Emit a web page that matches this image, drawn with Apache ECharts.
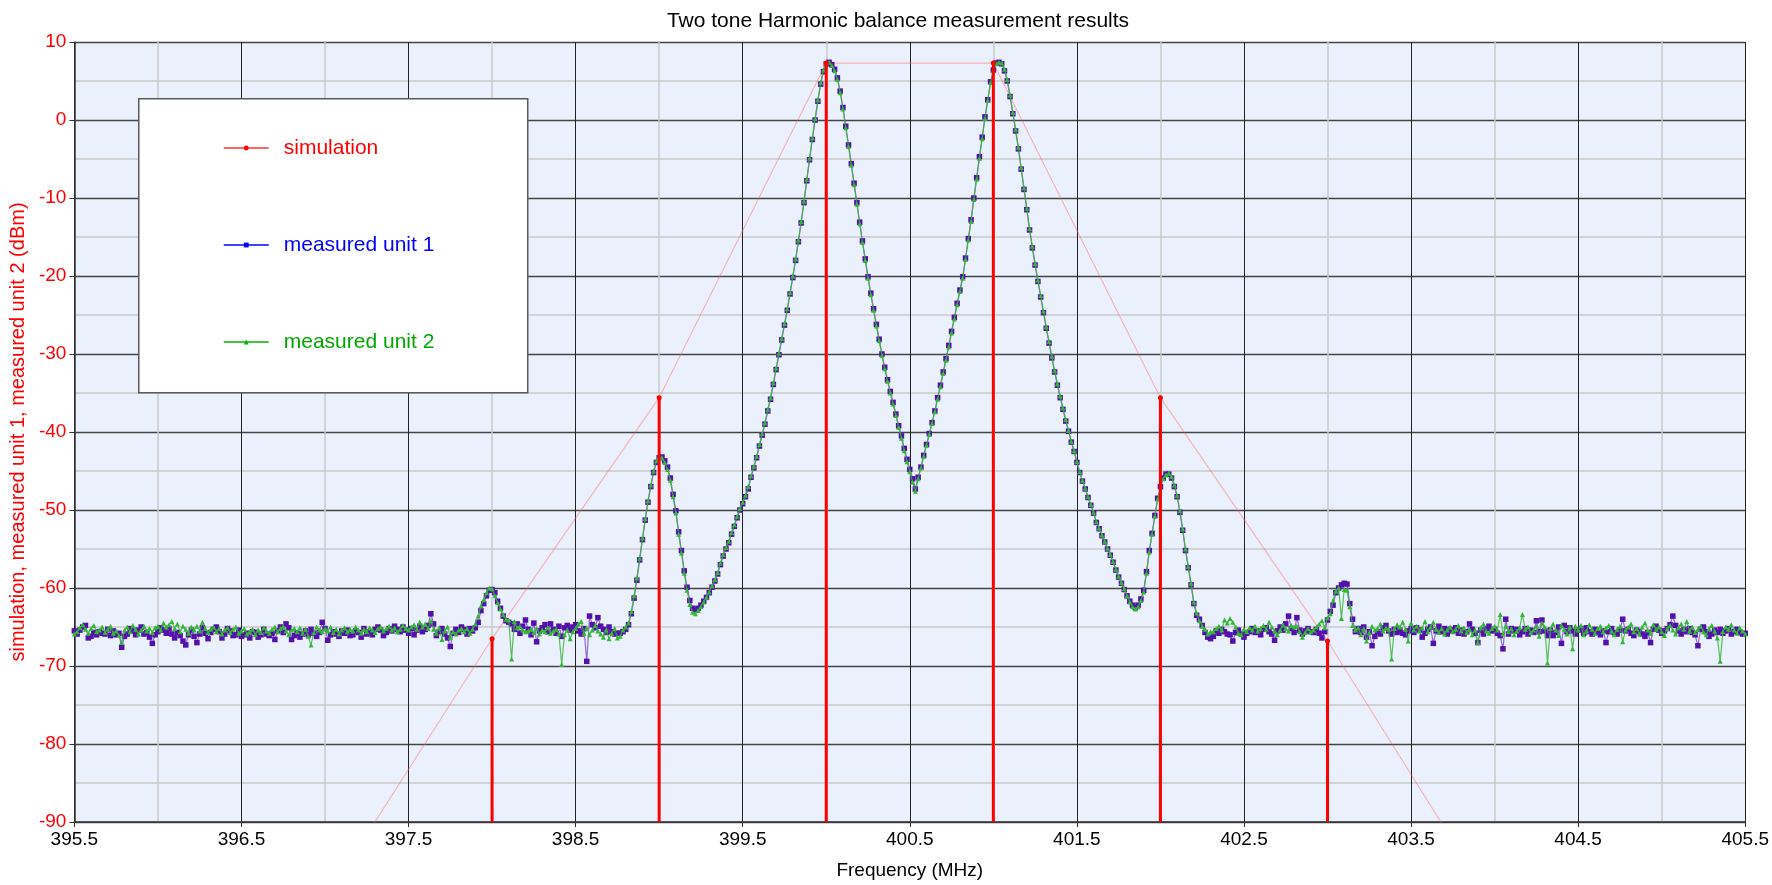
<!DOCTYPE html>
<html><head><meta charset="utf-8">
<script src="https://cdn.jsdelivr.net/npm/echarts@6/dist/echarts.min.js"></script>
<style>html,body{margin:0;padding:0;background:#fff}#c{width:1772px;height:885px}</style>
</head><body><div id="c"></div>
<script>
// ---- data ----
const titleText = 'Two tone Harmonic balance measurement results';
const xName = 'Frequency (MHz)';
const yName = 'simulation, measured unit 1, measured unit 2 (dBm)';
const seriesNames = ['simulation', 'measured unit 1', 'measured unit 2'];
const xMin = 395.5, xMax = 405.5, xStep = 1;
const yMin = -90, yMax = 10, yStep = 10;
// measurement sweep grid: 601 points from 395.5 MHz, 1/60 MHz apart
const sweepStart = 395.5, sweepStep = 1 / 60;
// simulated tones and intermodulation products
const simFreq = [397, 398, 399, 400, 401, 402, 403, 404];
const simLevel = [-100, -66.5, -35.6, 7.3, 7.3, -35.6, -66.8, -101];
// measured unit 1 (dBm), one value per sweep point
const unit1 = [
-65.5,-65.9,-65.4,-65.0,-64.8,-66.4,-66.2,-65.7,-66.0,-65.6,
-65.8,-65.9,-65.3,-66.1,-65.5,-66.0,-65.8,-67.6,-66.2,-65.9,
-65.2,-65.5,-66.0,-65.4,-65.0,-65.9,-65.7,-66.3,-67.1,-66.0,
-65.6,-65.1,-65.4,-65.8,-65.2,-65.9,-66.4,-65.7,-66.1,-66.8,
-67.3,-66.0,-65.4,-66.2,-67.0,-65.9,-65.1,-65.8,-66.5,-65.7,
-65.3,-65.0,-65.6,-66.4,-65.9,-65.2,-65.5,-66.1,-66.0,-65.4,
-66.2,-66.0,-65.8,-66.4,-65.6,-65.7,-66.3,-66.0,-65.3,-65.9,
-66.1,-65.8,-66.6,-65.5,-65.0,-65.7,-64.6,-65.1,-66.6,-66.1,
-65.8,-66.3,-65.9,-65.5,-66.0,-65.3,-65.8,-66.2,-65.7,-64.4,
-65.2,-66.7,-66.0,-65.6,-65.9,-66.2,-65.5,-65.8,-65.4,-66.1,
-66.0,-65.5,-65.7,-66.3,-65.2,-65.9,-65.6,-66.0,-65.3,-65.0,
-65.4,-66.1,-65.7,-65.2,-65.5,-64.9,-65.3,-65.6,-65.0,-65.4,
-65.8,-65.2,-66.0,-65.4,-64.9,-65.6,-65.3,-64.8,-63.3,-64.6,
-66.1,-65.6,-65.2,-65.9,-66.4,-67.5,-65.8,-65.3,-65.7,-65.0,
-65.3,-65.9,-65.2,-65.5,-65.1,-64.4,-62.9,-62.0,-61.0,-60.3,-60.2,-60.6,-61.7,-62.6,-63.6,-64.2,-64.4,-64.6,-65.3,-64.6,-65.8,
-64.9,-64.1,-65.3,-66.0,-64.5,-66.9,-65.5,-65.1,-64.7,-65.6,-64.6,-65.3,-65.8,-64.9,-66.2,-65.1,-64.8,-65.4,-65.0,-64.7,-65.5,-65.9,-65.2,-69.4,-63.6,-64.7,-65.1,-63.8,-64.9,-65.3,-65.7,-65.0,-65.6,-65.9,-65.8,
-65.8,-65.6,-65.3,-64.7,-63.3,-61.3,-59.0,-56.4,-53.8,-51.3,
-49.0,-47.0,-45.2,-43.9,-43.3,-43.2,-43.7,-44.5,-45.9,-48.0,
-50.1,-52.8,-55.2,-57.8,-59.9,-61.6,-62.6,-62.8,-62.6,-62.2,
-61.7,-61.2,-60.6,-59.9,-59.1,-58.2,-57.0,-55.9,-55.0,-54.2,
-53.1,-52.1,-51.0,-50.0,-49.2,-48.3,-47.3,-45.8,-44.6,-43.3,
-41.8,-40.4,-39.0,-37.3,-35.8,-33.9,-32.0,-30.1,-28.2,-26.3,
-24.4,-22.3,-20.2,-18.0,-15.6,-13.2,-10.6,-7.8,-5.1,-2.5,
0.0,2.4,4.6,6.2,7.2,7.4,7.1,6.5,5.4,3.7,
1.6,-0.8,-3.2,-5.6,-8.1,-10.6,-13.1,-15.5,-17.8,-20.1,
-22.2,-24.2,-26.2,-28.1,-30.0,-31.7,-33.3,-34.8,-36.2,-37.7,
-39.2,-40.5,-42.1,-43.5,-44.8,-46.0,-47.3,-45.8,-44.5,-43.0,
-41.6,-40.2,-38.8,-37.3,-35.6,-34.0,-32.3,-30.6,-28.9,-27.1,
-25.3,-23.5,-21.8,-20.1,-17.7,-15.2,-12.8,-10.0,-7.4,-4.7,
-2.2,0.4,2.6,4.9,6.4,7.3,7.4,7.2,6.3,5.0,
3.0,0.8,-1.4,-3.7,-6.3,-8.9,-11.5,-14.1,-16.4,-18.6,
-20.7,-22.7,-24.7,-26.7,-28.6,-30.5,-32.3,-34.0,-35.6,-37.1,
-38.6,-39.9,-41.3,-42.5,-43.9,-45.2,-46.3,-47.3,-48.4,-49.4,
-50.4,-51.6,-52.4,-53.3,-54.1,-55.0,-55.8,-56.7,-57.7,-58.6,
-59.4,-60.2,-61.0,-61.7,-62.2,-62.5,-62.2,-61.4,-60.3,-57.9,
-55.2,-53.0,-50.7,-48.5,-47.0,-45.9,-45.4,-45.4,-45.9,-47.0,
-48.3,-50.3,-52.6,-55.2,-57.4,-59.6,-62.0,-63.5,-64.0,-64.8,
-65.7,-66.3,-66.5,
-66.2,-65.5,-65.8,-65.3,-65.6,-65.9,-66.0,-66.8,-65.7,-65.4,
-65.9,-66.3,-65.8,-65.6,-65.2,-65.7,-65.5,-66.0,-65.3,-65.1,
-65.6,-65.9,-66.7,-65.5,-65.0,-65.4,-64.6,-63.6,-65.2,-65.7,
-63.8,-65.4,-65.9,-65.5,-65.2,-65.6,-65.7,-65.3,-65.8,-66.4,
-65.6,
-64.1,-63.0,-62.2,-60.6,-60.0,-59.6,-59.4,-59.5,-62.0,-64.0,-65.6,-65.2,-65.7,
-65.0,-66.3,-65.6,-67.4,-66.2,-65.6,-65.9,-65.1,-64.8,-65.5,
-65.9,-65.3,-65.7,-65.4,-65.8,-66.0,-65.5,-65.2,-65.7,-65.1,
-65.4,-66.3,-65.8,-65.3,-65.0,-67.1,-65.5,-64.9,-65.6,-65.2,
-65.9,-65.3,-65.5,-65.1,-65.8,-65.4,-65.9,-65.6,-64.6,-65.3,
-65.8,-67.0,-65.4,-65.9,-65.2,-64.9,-65.5,-65.3,-65.8,-66.1,
-67.8,-64.0,-65.9,-65.2,-65.5,-65.3,-66.0,-65.6,-65.2,-65.9,
-65.4,-65.7,-64.2,-65.6,-64.1,-65.5,-66.1,-65.4,-66.1,-65.7,
-65.0,-67.1,-64.8,-65.6,-65.1,-65.5,-65.9,-65.4,-65.2,-65.8,
-65.1,-65.6,-65.9,-65.3,-65.7,-66.0,-65.5,-67.0,-65.6,-65.2,
-65.7,-65.9,-65.4,-64.0,-65.5,-65.3,-65.8,-66.1,-65.4,-65.6,
-65.9,-66.2,-65.7,-67.0,-65.3,-64.9,-65.4,-65.8,-65.5,-65.2,
-64.7,-63.6,-64.8,-65.5,-65.9,-65.3,-65.6,-65.2,-65.7,-66.0,
-67.4,-65.3,-65.0,-65.6,-66.2,-65.9,-65.4,-65.7,-65.3,-65.8,
-65.5,-65.2,-65.9,-65.6,-65.3,-65.7,-65.9,-65.8
];
// measured unit 2 (dBm), one value per sweep point
const unit2 = [
-65.9,-65.6,-65.1,-64.7,-65.3,-65.8,-65.2,-64.8,-65.6,-65.4,
-65.0,-65.7,-65.3,-64.9,-65.8,-65.5,-66.1,-67.0,-65.4,-65.0,
-65.6,-64.8,-65.3,-65.9,-65.4,-64.9,-65.5,-65.2,-65.7,-65.1,
-64.9,-65.4,-64.5,-65.0,-64.7,-64.3,-65.2,-64.6,-65.6,-64.9,
-65.3,-65.8,-65.0,-65.4,-64.9,-65.5,-64.4,-65.2,-65.7,-65.3,
-65.0,-65.6,-65.2,-65.9,-65.4,-65.1,-65.7,-65.3,-65.0,-65.8,
-65.5,-65.2,-65.9,-65.6,-65.3,-66.0,-65.4,-65.7,-65.1,-65.5,
-65.8,-65.3,-65.0,-65.6,-65.2,-64.9,-65.5,-66.0,-65.4,-65.2,
-65.6,-65.1,-65.8,-65.3,-66.2,-67.3,-65.7,-65.0,-65.4,-65.6,
-65.2,-65.5,-65.0,-65.7,-65.3,-65.9,-65.4,-65.1,-65.6,-65.3,
-65.5,-65.0,-65.4,-65.8,-65.3,-65.6,-65.1,-65.4,-65.7,-65.2,
-65.0,-65.5,-65.2,-64.9,-65.4,-65.1,-65.6,-65.3,-64.8,-65.2,
-65.4,-65.0,-64.7,-65.3,-64.4,-65.0,-64.6,-65.2,-64.2,-65.3,
-65.8,-65.1,-66.6,-65.5,-65.0,-66.3,-65.6,-65.9,-65.4,-65.2,
-65.6,-65.2,-65.8,-65.3,-64.6,-63.6,-62.3,-61.5,-60.6,-60.0,-60.1,-61.0,-61.9,-62.7,-63.4,-64.0,-64.1,-69.1,-64.3,-65.1,-64.9,
-65.4,-65.6,-65.5,-65.3,-65.7,-65.2,-65.9,-65.4,-65.6,-65.1,-65.8,-65.5,-65.3,-65.9,-69.8,-66.0,-65.4,-66.5,-65.6,-65.2,-64.6,-64.3,-65.8,-65.1,-66.0,-65.4,-64.8,-65.5,-65.9,-66.3,-65.4,-66.5,-65.8,-65.2,-66.4,
-66.2,-65.4,-65.0,-64.5,-63.0,-61.0,-58.7,-56.2,-53.6,-51.1,
-48.8,-46.8,-45.0,-43.7,-43.2,-43.3,-43.9,-44.8,-46.2,-48.3,
-50.4,-53.1,-55.5,-58.1,-60.3,-62.1,-63.1,-63.3,-62.9,-62.4,
-61.8,-61.2,-60.5,-59.7,-58.9,-58.0,-56.8,-55.7,-54.8,-54.0,
-52.9,-51.9,-50.8,-49.8,-49.0,-48.1,-47.0,-45.6,-44.4,-43.1,
-41.6,-40.2,-38.8,-37.1,-35.6,-33.7,-31.8,-29.9,-28.0,-26.1,
-24.2,-22.1,-20.0,-17.8,-15.4,-13.0,-10.4,-7.6,-4.9,-2.3,
0.2,2.6,4.8,6.4,7.3,7.4,7.0,6.3,5.2,3.5,
1.4,-1.0,-3.4,-5.8,-8.3,-10.8,-13.3,-15.7,-18.0,-20.3,
-22.4,-24.4,-26.4,-28.3,-30.2,-31.9,-33.5,-35.0,-36.4,-37.9,
-39.4,-40.8,-42.4,-43.8,-45.1,-46.4,-47.6,-46.0,-44.6,-43.1,
-41.7,-40.3,-38.9,-37.4,-35.8,-34.2,-32.5,-30.8,-29.1,-27.3,
-25.5,-23.7,-22.0,-20.3,-17.9,-15.4,-13.0,-10.2,-7.6,-4.9,
-2.4,0.2,2.5,4.8,6.3,7.2,7.4,7.3,6.5,5.2,
3.2,1.0,-1.2,-3.5,-6.1,-8.7,-11.3,-13.9,-16.2,-18.4,
-20.5,-22.5,-24.5,-26.5,-28.4,-30.3,-32.1,-33.8,-35.4,-36.9,
-38.4,-39.8,-41.2,-42.4,-43.8,-45.1,-46.2,-47.2,-48.3,-49.3,
-50.3,-51.5,-52.3,-53.2,-54.0,-54.9,-55.7,-56.6,-57.6,-58.5,
-59.3,-60.1,-61.0,-61.8,-62.4,-62.7,-62.4,-61.6,-60.5,-58.1,
-55.4,-53.1,-50.8,-48.6,-47.1,-46.0,-45.5,-45.3,-45.7,-46.8,
-48.1,-50.1,-52.4,-55.0,-57.2,-59.4,-61.8,-63.2,-64.2,-64.9,
-65.3,-65.9,-65.6,
-65.6,-65.2,-64.9,-65.4,-64.1,-64.5,-63.9,-64.4,-65.0,-65.8,
-66.0,-65.3,-65.6,-65.1,-65.4,-64.9,-65.5,-65.2,-64.8,-65.3,
-64.4,-65.0,-65.5,-66.0,-65.4,-64.7,-65.2,-65.5,-64.8,-65.0,
-64.9,-65.6,-66.3,-65.7,-65.2,-65.6,-65.4,-65.0,-64.6,-64.2,
-65.1,
-63.8,-63.3,-61.6,-60.4,-60.0,-63.9,-60.2,-60.3,-62.4,-64.8,-65.4,-65.1,-66.0,
-65.2,-66.8,-65.7,-64.9,-65.4,-65.2,-64.6,-65.5,-65.1,-65.3,
-69.1,-65.2,-64.7,-65.0,-64.4,-65.3,-66.8,-64.5,-65.4,-64.9,
-65.5,-65.1,-64.3,-65.6,-65.0,-64.4,-65.3,-65.7,-65.2,-65.9,
-65.4,-65.0,-65.6,-65.3,-64.8,-65.5,-65.1,-65.7,-65.3,-66.0,
-65.4,-67.0,-65.1,-64.6,-65.5,-65.8,-65.2,-64.9,-65.4,-63.4,
-65.9,-64.9,-65.6,-65.2,-66.0,-65.5,-65.1,-63.4,-65.3,-65.0,
-65.7,-65.4,-64.9,-66.2,-64.5,-65.0,-69.6,-65.2,-64.6,-65.4,
-66.1,-64.8,-65.3,-65.9,-65.0,-67.8,-64.9,-65.4,-64.8,-66.0,
-65.5,-64.7,-65.3,-65.8,-65.2,-64.9,-65.6,-65.1,-64.8,-65.5,
-66.0,-65.3,-64.9,-66.9,-65.4,-65.0,-64.6,-65.6,-65.2,-65.9,
-65.0,-64.5,-65.4,-65.8,-64.7,-65.3,-65.0,-65.6,-66.1,-65.2,
-64.8,-65.4,-65.9,-65.1,-64.6,-65.3,-64.3,-65.5,-65.0,-65.7,
-65.3,-64.9,-65.6,-66.0,-65.2,-64.8,-65.5,-66.4,-69.4,-65.6,
-65.0,-65.3,-64.7,-65.4,-65.8,-65.1,-65.5,-65.9
];

// ---- build ----
const toPts = arr => arr.map((v, i) => [sweepStart + i * sweepStep, v]);
const simPts = simFreq.map((f, i) => [f, simLevel[i]]);
const FONT = '"Liberation Sans", Arial, sans-serif';
const chart = echarts.init(document.getElementById('c'), null, {renderer: 'canvas'});

chart.setOption({
  animation: false,
  backgroundColor: '#ffffff',
  textStyle: {fontFamily: FONT},
  title: {
    text: titleText, left: 893, top: 6, textAlign: 'center',
    textStyle: {fontFamily: FONT, fontSize: 21, fontWeight: 'normal', color: '#000'}
  },
  grid: {left: 71, right: 23, top: 42, bottom: 56, show: true,
         backgroundColor: '#ebf1fc', borderWidth: 0, containLabel: false},
  graphic: [{
    type: 'rect', left: 138, top: 98, z: 5,
    shape: {x: 0, y: 0, width: 389, height: 294},
    style: {fill: '#ffffff', stroke: '#5a5a5a', lineWidth: 1.5}
  }],
  legend: {
    orient: 'vertical', left: 223, top: 137, z: 6, padding: 0,
    itemWidth: 45, itemHeight: 6, itemGap: 75,
    textStyle: {fontFamily: FONT, fontSize: 21, padding: [0, 0, 0, 10], lineHeight: 22},
    data: [
      {name: seriesNames[0], textStyle: {color: '#ff0000'}, lineStyle: {color: '#ff3030', width: 1.5}, itemStyle: {color: '#ff0000'}},
      {name: seriesNames[1], textStyle: {color: '#0000ff'}, lineStyle: {color: '#0000ff', width: 1.5}, itemStyle: {color: '#0000ff'}},
      {name: seriesNames[2], textStyle: {color: '#00a800'}, lineStyle: {color: '#00b400', width: 1.5}, itemStyle: {color: '#00b400'}}
    ]
  },
  xAxis: {
    type: 'value', min: xMin, max: xMax, interval: xStep,
    name: xName, nameLocation: 'middle', nameGap: 39,
    nameTextStyle: {fontFamily: FONT, fontSize: 19, color: '#000'},
    axisLine: {show: true, onZero: false, lineStyle: {color: '#333', width: 1.5}},
    axisTick: {show: true, length: 5, lineStyle: {color: '#333'}},
    axisLabel: {fontFamily: FONT, fontSize: 19, color: '#000', margin: 8,
                formatter: v => v.toFixed(1)},
    splitLine: {show: true, lineStyle: {color: '#222', width: 1}},
    minorTick: {show: false, splitNumber: 2},
    minorSplitLine: {show: true, lineStyle: {color: '#c9c9c9', width: 1.5}}
  },
  yAxis: {
    type: 'value', min: yMin, max: yMax, interval: yStep,
    name: yName, nameLocation: 'middle', nameGap: 46,
    nameTextStyle: {fontFamily: FONT, fontSize: 20, color: '#ff0000'},
    axisLine: {show: true, onZero: false, lineStyle: {color: '#333', width: 1.5}},
    axisTick: {show: true, length: 5, lineStyle: {color: '#333'}},
    axisLabel: {fontFamily: FONT, fontSize: 19, color: '#ff0000', margin: 8},
    splitLine: {show: true, lineStyle: {color: '#444', width: 1.3}},
    minorTick: {show: false, splitNumber: 2},
    minorSplitLine: {show: true, lineStyle: {color: '#c9c9c9', width: 1.5}}
  },
  series: [
    {
      name: seriesNames[0], type: 'line', data: simPts, clip: true,
      symbol: 'circle', symbolSize: 4, showSymbol: false,
      itemStyle: {color: '#ff0000'},
      lineStyle: {color: 'rgba(255,90,90,0.4)', width: 1.2}, z: 3
    },
    {
      name: seriesNames[1], type: 'line', data: toPts(unit1), clip: true,
      symbol: 'rect', symbolSize: 5.5,
      itemStyle: {color: '#5410ad'},
      lineStyle: {color: 'rgba(112,60,200,0.75)', width: 1.2}, z: 4
    },
    {
      name: seriesNames[2], type: 'line', data: toPts(unit2), clip: true,
      symbol: 'triangle', symbolSize: 5,
      itemStyle: {color: '#33b833'},
      lineStyle: {color: 'rgba(60,180,60,0.85)', width: 1.2}, z: 5
    },
    {
      name: 'simulation tones', type: 'custom', data: simPts, z: 7,
      renderItem: (params, api) => {
        const x = api.value(0), y = api.value(1);
        if (y < yMin) return null;
        const top = api.coord([x, y]);
        const bot = api.coord([x, yMin]);
        return {type: 'group', children: [
          {type: 'line', shape: {x1: top[0], y1: top[1], x2: bot[0], y2: bot[1]},
           style: {stroke: '#ff0000', lineWidth: 3}},
          {type: 'circle', shape: {cx: top[0], cy: top[1], r: 2.5},
           style: {fill: '#ff0000'}}
        ]};
      }
    }
  ]
});
</script></body></html>
